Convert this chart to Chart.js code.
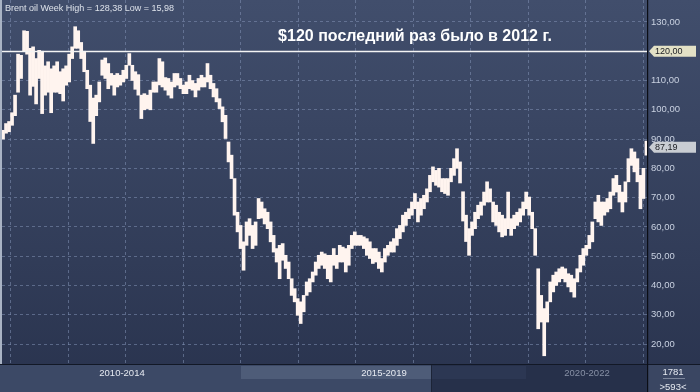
<!DOCTYPE html>
<html>
<head>
<meta charset="utf-8">
<script src="https://cdn.jsdelivr.net/npm/chart.js@4.4.1/dist/chart.umd.min.js"></script>
<style>
  html, body { margin: 0; padding: 0; background: #2b3652; }
  #wrap { width: 700px; height: 392px; }
</style>
</head>
<body>
<div id="wrap"><canvas id="myChart" width="700" height="392"></canvas></div>
<script>
const ctx = document.getElementById("myChart");

const title = "Brent oil Week High = 128,38 Low = 15,98";
const headline = "$120 последний раз было в 2012 г.";
const periods = ["2010-2014", "2015-2019", "2020-2022"];
const barsTotal = "1781";
const barsShown = ">593<";
const levelPrice = 120;
const lastPrice = 87.19;
const yTicks = [20, 30, 40, 50, 60, 70, 80, 90, 100, 110, 120, 130];
const yearTicks = [2011, 2012, 2013, 2014, 2015, 2016, 2017, 2018, 2019, 2020, 2021, 2022];

// brent high / low, one bar every ~2.7 weeks, Nov 2010 .. Jan 2022
const firstDate = 2010.866;
const stepYears = 0.0523;
const highs = [
  93, 95.3, 96, 99, 105, 119, 118.6, 127, 126.8, 121, 121.5, 117.5, 120.3, 120, 115, 116.4,
  114, 115, 116.4, 113, 114, 115, 119, 121.5, 128.38, 127, 123, 120, 113.5, 108.4, 104, 105,
  109.5, 117, 117.7, 115.8, 112.4, 111.8, 112.4, 111.8, 113.5, 115.2, 119.2, 115.2, 113, 112,
  105, 105.5, 105, 106.7, 109.5, 109.5, 117.5, 116.4, 111, 110.7, 109.5, 112.4, 112.4, 110.7,
  108.4, 109.5, 111.8, 110, 109, 110.7, 111.8, 111, 115.8, 111.8, 109, 107.2, 103.8, 101,
  98.1, 89, 84.5, 76.5, 65, 60.5, 54.9, 61.7, 62.8, 60.5, 61.7, 69.7, 68.5, 66.2, 65, 61.7,
  57.1, 52.6, 53.7, 54.3, 50.3, 48, 42.3, 38.9, 35.5, 34.4, 36.6, 41.2, 42.3, 44.6, 48, 50.3,
  51.4, 50.8, 50.3, 50.3, 52.6, 50.3, 53.7, 53.1, 52.6, 53.7, 57.1, 58.3, 57.1, 57.1, 56.6, 56,
  54.9, 52.6, 52.6, 51.4, 49.2, 52.6, 53.7, 54.9, 56, 59.4, 60.5, 64, 65, 66.2, 68.5, 71.4,
  68.5, 69.7, 70.8, 73, 77.6, 80.5, 79.3, 80, 76.5, 76.5, 76.5, 80, 83.3, 86.7, 82.2, 72,
  64, 59.4, 61.7, 65, 67.4, 68.5, 71.9, 75.4, 73, 68.5, 67.4, 65, 64, 62.8, 71.9, 62.8,
  64, 65, 66.2, 68.5, 71.9, 70.2, 65, 59.4, 45.7, 36.6, 32.1, 34.4, 41.2, 43.5, 44.6, 45.7,
  46.3, 45.7, 44, 43.5, 42.3, 45.7, 50.3, 52.6, 53.7, 57.1, 61.7, 68.5, 70.8, 68.5, 68.5, 69.7,
  71.9, 76.5, 77.6, 74.2, 71.9, 75.4, 83.3, 86.7, 85.6, 83.3, 77.6, 80, 89.3
];
const lows = [
  90, 92, 92.5, 94.7, 98, 106, 110.7, 120, 119, 105, 108, 102, 110.7, 98.7, 105, 106,
  99, 106, 106, 105.5, 103, 108.4, 109.5, 117.5, 121, 121, 117.5, 113, 107.2, 96, 88.5, 98,
  102.7, 111.8, 110.7, 107.2, 108.4, 105, 107.8, 108.4, 109.5, 110.7, 115.2, 110, 107, 105,
  97, 100, 100.4, 100, 106, 106, 108.5, 107.8, 106.7, 105, 104, 107.8, 108.4, 107.2,
  105.5, 105.5, 107.2, 106.7, 104.4, 106.7, 107.8, 107.8, 109.5, 107.2, 104.4, 102.7, 100.4, 95.9,
  90.2, 82.2, 76.5, 64, 58.3, 52.6, 45.2, 53.7, 57.1, 52.6, 53.7, 62.8, 63, 61, 59.4, 54.9,
  51.4, 48, 42.3, 48.6, 45.8, 42.3, 36.6, 34.4, 29.8, 27, 31, 36.6, 37.8, 41.2, 43.5, 45.8,
  46.9, 45.8, 42.3, 41.2, 46.9, 45.8, 48, 48, 44.6, 46.9, 52.6, 53.7, 53.7, 53.7, 52.6, 50.3,
  49.2, 47.5, 48, 45.8, 44.6, 48, 50.3, 51.4, 51.4, 53.7, 56, 58.3, 60.5, 62.8, 64, 66.2,
  61.7, 64, 66.2, 68.5, 72, 75.4, 74.2, 73.6, 72, 71.4, 70.8, 75.4, 77.6, 80, 75, 62,
  55, 50.3, 57.1, 59.4, 62.8, 64, 67.4, 68.5, 68.5, 61.7, 60.5, 58.3, 56.6, 57.1, 59.4, 57.1,
  59.4, 60.5, 61.7, 64, 66.2, 64, 59.4, 50.3, 25.2, 27.5, 15.98, 27.5, 34.4, 37.8, 40, 41.2,
  42.3, 41.2, 39.5, 37.8, 36, 41.2, 44.6, 46.9, 50.3, 52.6, 54.9, 62.8, 61.7, 60.5, 64, 65.1,
  66.2, 70.8, 71.9, 68.5, 65.1, 68.5, 75.4, 81, 78.8, 75.4, 66.2, 69.7, 84.5
];

const fontName = "'Liberation Sans', Arial, sans-serif";

function fmt(v) {
  return v.toFixed(2).replace(".", ",");
}

function drawTag(c, x, y, text, fill) {
  c.beginPath();
  c.moveTo(x + 1, y);
  c.lineTo(x + 6, y - 5.5);
  c.lineTo(x + 48, y - 5.5);
  c.lineTo(x + 48, y + 5.5);
  c.lineTo(x + 6, y + 5.5);
  c.closePath();
  c.fillStyle = fill;
  c.fill();
  c.fillStyle = "#1b1d22";
  c.font = "9px " + fontName;
  c.textAlign = "left";
  c.textBaseline = "middle";
  c.fillText(text, x + 7, y + 0.5);
}

// фон, навигатор и подписи
const decor = {
  id: "decor",
  beforeDraw(chart) {
    const c = chart.ctx;
    const { right, bottom } = chart.chartArea;
    const w = chart.width, h = chart.height;
    c.save();
    const g = c.createLinearGradient(0, 0, 0, h);
    g.addColorStop(0, "#414e6c");
    g.addColorStop(1, "#29334e");
    c.fillStyle = g;
    c.fillRect(0, 0, w, h);
    // left frame
    c.fillStyle = "#a9b3c4";
    c.fillRect(0, 0, 2, h);
    // navigator band
    c.fillStyle = "#3c4966";
    c.fillRect(0, bottom, right, h - bottom);
    c.fillStyle = "#4e5c78";
    c.fillRect(241, bottom + 2, 190, 13);
    c.fillStyle = "#26304a";
    c.fillRect(431, bottom + 1, right - 431, h - bottom - 1);
    c.fillStyle = "#2c3753";
    c.fillRect(431, bottom + 2, 95, 13);
    c.fillStyle = "#1c2437";
    c.fillRect(431, bottom + 1, 1, h - bottom - 1);
    c.fillStyle = "#3a4662";
    c.fillRect(right, bottom, w - right, h - bottom);
    c.fillStyle = "#121826";
    c.fillRect(0, bottom, w, 1);
    c.restore();
  },
  afterDatasetsDraw(chart) {
    const c = chart.ctx;
    const { left, right, bottom } = chart.chartArea;
    const ys = chart.scales.y;
    c.save();
    // 120 level line
    const yl = Math.round(ys.getPixelForValue(levelPrice)) + 0.5;
    c.strokeStyle = "#f4f4f4";
    c.lineWidth = 1.3;
    c.beginPath();
    c.moveTo(left, yl);
    c.lineTo(right, yl);
    c.stroke();
    // axis divider
    c.fillStyle = "#0b0e16";
    c.fillRect(right, 0, 1.2, chart.height);

    drawTag(c, right + 1, ys.getPixelForValue(levelPrice), fmt(levelPrice), "#e3e1c6");
    drawTag(c, right + 1, ys.getPixelForValue(lastPrice), fmt(lastPrice), "#c9cdd3");

    c.textBaseline = "middle";
    c.fillStyle = "#dde2ea";
    c.font = "9px " + fontName;
    c.textAlign = "left";
    c.fillText(title, 5, 9);

    c.fillStyle = "#ffffff";
    c.font = "bold 16px " + fontName;
    c.textAlign = "center";
    c.fillText(headline, 415, 37);

    c.font = "9.5px " + fontName;
    c.fillStyle = "#e6eaf1";
    c.fillText(periods[0], 122, bottom + 9);
    c.fillText(periods[1], 384, bottom + 9);
    c.fillStyle = "#8790a5";
    c.fillText(periods[2], 587, bottom + 9);

    c.fillStyle = "#e6eaf1";
    c.fillText(barsTotal, 673, bottom + 8);
    c.fillText(barsShown, 673, bottom + 23);
    c.fillStyle = "#7b859a";
    c.fillRect(663, bottom + 14, 22, 1);
    c.restore();
  }
};

const bars = highs.map((hi, i) => ({ x: firstDate + i * stepYears, y: [lows[i], hi] }));

const gridColor = "rgba(130,145,180,0.55)";

const myChart = new Chart(ctx, {
  type: "bar",
  data: {
    datasets: [{
      label: "Brent oil",
      data: bars,
      backgroundColor: "#fff4ef",
      borderWidth: 0,
      barPercentage: 1,
      categoryPercentage: 1
    }]
  },
  options: {
    responsive: false,
    animation: false,
    devicePixelRatio: 1,
    layout: { padding: { left: 2, right: 0, top: 0, bottom: 28 } },
    plugins: { legend: { display: false }, tooltip: { enabled: false } },
    scales: {
      x: {
        type: "linear",
        offset: false,
        min: 2010.848,
        max: 2022.068,
        afterBuildTicks: (s) => { s.ticks = yearTicks.map((v) => ({ value: v })); },
        afterFit: (s) => { s.height = 0; },
        ticks: { display: false },
        border: { display: false, dash: [3, 3] },
        grid: { color: gridColor, drawTicks: false, offset: false }
      },
      y: {
        position: "right",
        min: 13.17,
        max: 137.5,
        afterBuildTicks: (s) => { s.ticks = yTicks.map((v) => ({ value: v })); },
        afterFit: (s) => { s.width = 53; s.paddingTop = 0; s.paddingBottom = 0; },
        border: { display: false, dash: [3, 3] },
        grid: { color: gridColor, drawTicks: false },
        ticks: {
          padding: 4,
          color: "#c9d1e1",
          font: { family: fontName, size: 9.5 },
          callback: (v) => fmt(v)
        }
      }
    }
  },
  plugins: [decor]
});
</script>
</body>
</html>
